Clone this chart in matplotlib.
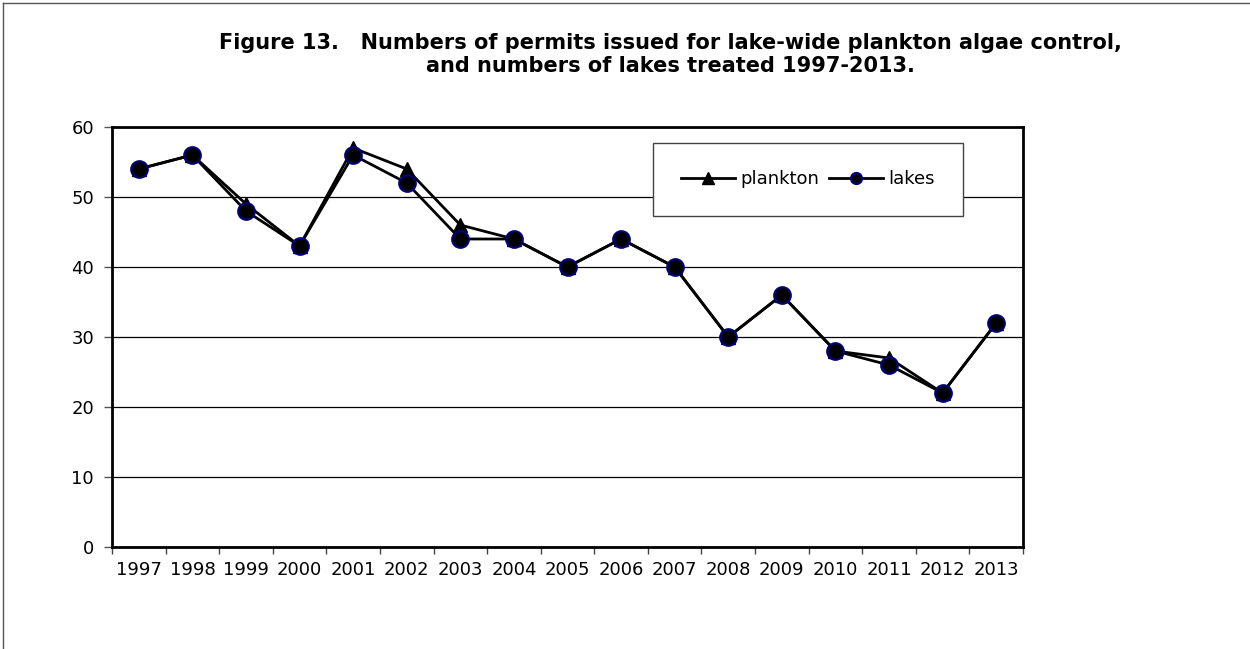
import matplotlib
matplotlib.use("Agg")
import matplotlib.pyplot as plt
from matplotlib.lines import Line2D

years = ["1997", "1998", "1999", "2000", "2001", "2002", "2003", "2004", "2005",
         "2006", "2007", "2008", "2009", "2010", "2011", "2012", "2013"]
plankton = [54, 56, 49, 43, 57, 54, 46, 44, 40, 44, 40, 30, 36, 28, 27, 22, 32]
lakes = [54, 56, 48, 43, 56, 52, 44, 44, 40, 44, 40, 30, 36, 28, 26, 22, 32]
yticks = [0, 10, 20, 30, 40, 50, 60]

plt.rcParams['font.family'] = ['DejaVu Sans']

W, H = 1250, 649
fig = plt.figure(figsize=(W / 100, H / 100), dpi=100)
L, R, T, B = 112, 1023, 127, 547
ax = fig.add_axes([L / W, 1 - B / H, (R - L) / W, (B - T) / H])

x = list(range(len(years)))
ax.plot(x, plankton, color='black', lw=2, marker='^', markersize=10,
        markerfacecolor='black', markeredgecolor='black', label='plankton', zorder=3)
ax.plot(x, lakes, color='black', lw=2, marker='o', markersize=12,
        markerfacecolor='black', markeredgecolor='#000080', markeredgewidth=1.5,
        label='lakes', zorder=4)

ax.set_xlim(-0.5, len(years) - 0.5)
ax.set_ylim(0, 60)
ax.set_yticks(yticks)
ax.set_yticklabels([str(v) for v in yticks], fontsize=13)
ax.set_xticks(x)
ax.set_xticklabels(years, fontsize=13)
ax.tick_params(axis='x', which='major', length=0, pad=10)
ax.set_xticks([i - 0.5 for i in range(len(years) + 1)], minor=True)
ax.tick_params(axis='x', which='minor', length=5, width=1, color='#444444', direction='out')
ax.tick_params(axis='y', length=6, width=1, color='#555555', direction='out', pad=7)
ax.grid(axis='y', color='black', lw=0.9)
ax.set_axisbelow(True)
for s in ax.spines.values():
    s.set_linewidth(2)
    s.set_color('black')

leg_handles = [
    Line2D([0], [0], color='black', lw=2, marker='^', markersize=8,
           markerfacecolor='black', markeredgecolor='black'),
    Line2D([0], [0], color='black', lw=2, marker='o', markersize=8,
           markerfacecolor='black', markeredgecolor='#000080', markeredgewidth=1.5),
]
lx0, lx1, ly0, ly1 = 653, 963, 143, 216
leg = ax.legend(leg_handles, ['plankton', 'lakes'], ncol=2, fontsize=13,
                loc='center',
                bbox_to_anchor=((lx0 - L) / (R - L), (B - ly1) / (B - T),
                                (lx1 - lx0) / (R - L), (ly1 - ly0) / (B - T)),
                mode='expand', fancybox=False, framealpha=1, edgecolor='#444444',
                borderaxespad=0, handlelength=3.0, handletextpad=0.3, columnspacing=1.5,
                borderpad=1.55)
leg.get_frame().set_linewidth(1)

fig.text(670 / W, 1 - 43 / H, "Figure 13.   Numbers of permits issued for lake-wide plankton algae control,",
         ha='center', va='center', fontsize=15, fontweight='bold')
fig.text(670 / W, 1 - 66 / H, "and numbers of lakes treated 1997-2013.",
         ha='center', va='center', fontsize=15, fontweight='bold')

# outer frame (top and left visible)
fig.add_artist(Line2D([3 / W, 3 / W], [0, 1 - 3 / H], transform=fig.transFigure, color='#555555', lw=1))
fig.add_artist(Line2D([3 / W, 1], [1 - 3 / H, 1 - 3 / H], transform=fig.transFigure, color='#555555', lw=1))

fig.savefig("out.png", dpi=100)
